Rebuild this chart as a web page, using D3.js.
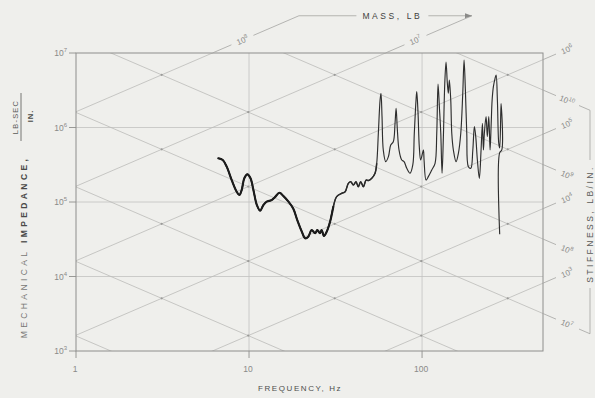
<!DOCTYPE html>
<html><head><meta charset="utf-8">
<script src="https://cdn.jsdelivr.net/npm/d3@7"></script>
<style>
html,body{margin:0;padding:0;background:#efefec;}
svg{display:block;font-family:"Liberation Sans",Arial,sans-serif;}
</style></head><body>
<svg id="c" width="595" height="398"></svg>
<script>
// ---------- data ----------
const freqTicks = [1, 10, 100];
const freqTickLabels = ["1", "10", "100"];
const impedanceTicks = [1e3, 1e4, 1e5, 1e6, 1e7];
const impedanceExponents = ["3", "4", "5", "6", "7"];
const massLines = [1e3, 1e4, 1e5, 1e6, 1e7, 1e8];            // lb
const stiffnessLines = [1e4, 1e5, 1e6, 1e7, 1e8, 1e9, 1e10];  // lb/in
const massRightLabels = [1e3, 1e4, 1e5, 1e6];
const massTopLabels = [1e7, 1e8];
const stiffRightLabels = [1e7, 1e8, 1e9, 1e10];

const frequency = [6.64,7.05,7.43,7.94,8.49,8.79,9.07,9.39,9.78,10.2,
 10.6,11.1,11.6,12.1,12.65,13.5,14.1,15.0,15.8,16.9,
 18.0,19.0,20.2,21.1,22.0,23.0,24.1,24.8,25.7,26.3,
 27.1,28.1,29.4,30.7,32.1,34.4,35.9,37.5,38.7,40.1,
 41.5,42.8,44.2,45.8,47.5,48.9,51.2,53.5,54.7,55.9,
 57.2,57.9,58.7,59.7,61.7,63.9,65.9,68.2,69.8,70.8,
 72.0,73.6,76.3,78.7,81.6,85.2,88.4,90.2,92.3,93.2,
 94.8,96.4,98.2,101.8,102.7,105.5,108.7,113.8,118.9,121.6,
 123.7,125.9,128.3,130.5,132.8,135.3,137.6,140.0,141.9,143.8,
 146.5,148.5,151.7,157.3,162.2,167.4,171.9,174.9,178.0,181.3,
 185.2,191.3,196.5,200.6,204.3,208.8,214.3,219.3,223.3,226.2,
 229.1,234.4,238.4,243.0,247.2,250.6,254.1,258.4,264.2,267.9,
 272.5,277.5,281,286,289,281,281];
const impedance = [3.86e5,3.66e5,2.98e5,1.97e5,1.37e5,1.24e5,1.45e5,2.08e5,2.35e5,2.08e5,
 1.45e5,9.1e4,7.64e4,9.1e4,1.01e5,1.06e5,1.16e5,1.33e5,1.20e5,1.01e5,
 8.2e4,5.73e4,3.99e4,3.26e4,3.42e4,4.21e4,3.80e4,4.21e4,3.80e4,4.21e4,
 3.50e4,3.99e4,5.44e4,8.65e4,1.18e5,1.31e5,1.37e5,1.78e5,1.87e5,1.69e5,
 1.87e5,1.60e5,1.87e5,1.60e5,1.97e5,1.94e5,2.08e5,2.43e5,3.31e5,8.36e5,
 2.34e6,2.88e6,1.40e6,4.99e5,3.48e5,4.06e5,5.82e5,6.45e5,1.14e6,1.81e6,
 9.25e5,4.99e5,3.66e5,3.48e5,2.83e5,2.43e5,3.14e5,8.36e5,2.34e6,3.03e6,
 1.55e6,5.52e5,3.66e5,4.99e5,3.66e5,1.97e5,2.19e5,2.69e5,3.31e5,8.36e5,
 3.84e6,1.90e6,8.36e5,2.43e5,7.53e5,3.92e6,7.57e6,3.92e6,2.88e6,4.34e6,
 2.34e6,8.36e5,4.99e5,3.48e5,4.51e5,8.36e5,2.88e6,8.05e6,3.19e6,8.36e5,
 2.98e5,2.83e5,4.99e5,1.03e6,7.53e5,3.66e5,2.08e5,4.99e5,1.14e6,4.99e5,
 8.36e5,1.40e6,7.53e5,1.40e6,4.99e5,1.03e6,2.34e6,3.53e6,4.57e6,5.07e6,
 2.34e6,6.14e5,5.3e5,2.1e6,5.0e5,4.6e5,3.7e4];

// ---------- chart ----------
const W = 595, H = 398;
const x = d3.scaleLog().domain([1, 500]).range([76, 543]);
const y = d3.scaleLog().domain([1e3, 1e7]).range([351, 53]);
const G = 386.1;
const massZ = (m, f) => 2 * Math.PI * f * m / G;
const stiffZ = (k, f) => k / (2 * Math.PI * f);
const fMassAt = (m, Z) => Z * G / (2 * Math.PI * m);

const svg = d3.select('#c');
svg.append('rect').attr('width', W).attr('height', H).attr('fill', '#efefec');
const [x0, x1] = x.range(), [y0, y1] = [y(1e7), y(1e3)];
svg.append('defs').append('clipPath').attr('id', 'plot')
  .append('rect').attr('x', x0).attr('y', y0).attr('width', x1 - x0).attr('height', y1 - y0);

const gridC = '#c2c2c0', diagC = '#bbbbb9', frameC = '#8e8e8c', labC = '#8a8a88';

// gridlines
svg.append('g').selectAll('line').data(impedanceTicks.slice(1, -1)).join('line')
  .attr('x1', x0).attr('x2', x1).attr('y1', d => y(d)).attr('y2', d => y(d))
  .attr('stroke', gridC).attr('stroke-width', 0.8);
svg.append('g').selectAll('line').data(freqTicks.slice(1)).join('line')
  .attr('x1', d => x(d)).attr('x2', d => x(d)).attr('y1', y0).attr('y2', y1)
  .attr('stroke', gridC).attr('stroke-width', 0.8);

// diagonals
const diag = svg.append('g').attr('clip-path', 'url(#plot)');
const fA = 0.3, fB = 3000;
diag.selectAll('.m').data(massLines).join('line').attr('class', 'm')
  .attr('x1', x(fA)).attr('y1', m => y(massZ(m, fA)))
  .attr('x2', x(fB)).attr('y2', m => y(massZ(m, fB)))
  .attr('stroke', diagC).attr('stroke-width', 0.8);
diag.selectAll('.k').data(stiffnessLines).join('line').attr('class', 'k')
  .attr('x1', x(fA)).attr('y1', k => y(stiffZ(k, fA)))
  .attr('x2', x(fB)).attr('y2', k => y(stiffZ(k, fB)))
  .attr('stroke', diagC).attr('stroke-width', 0.8);

// intersection dots
const dots = [];
massLines.forEach(m => stiffnessLines.forEach(k => {
  const f = Math.sqrt(G * k / (4 * Math.PI * Math.PI * m));
  const Z = stiffZ(k, f);
  if (f >= 1 && f <= 500 && Z >= 1e3 && Z <= 1e7) dots.push([f, Z]);
}));
svg.append('g').selectAll('circle').data(dots).join('circle')
  .attr('cx', d => x(d[0])).attr('cy', d => y(d[1])).attr('r', 1.1).attr('fill', '#9a9a98');

// frame
svg.append('rect').attr('x', x0).attr('y', y0).attr('width', x1 - x0).attr('height', y1 - y0)
  .attr('fill', 'none').attr('stroke', frameC).attr('stroke-width', 1);

// ticks
svg.append('g').selectAll('line').data(impedanceTicks).join('line')
  .attr('x1', x0 - 7).attr('x2', x0).attr('y1', d => y(d)).attr('y2', d => y(d))
  .attr('stroke', frameC).attr('stroke-width', 0.9);
svg.append('g').selectAll('line').data(freqTicks).join('line')
  .attr('x1', d => x(d)).attr('x2', d => x(d)).attr('y1', y1).attr('y2', y1 + 7)
  .attr('stroke', frameC).attr('stroke-width', 0.9);

// y tick labels
const yl = svg.append('g').attr('fill', labC).attr('font-size', 8.5);
impedanceTicks.forEach((d, i) => {
  const t = yl.append('text').attr('x', x0 - 9).attr('y', y(d) + 3).attr('text-anchor', 'end');
  t.append('tspan').text('10');
  t.append('tspan').attr('dy', -4).attr('font-size', 6).text(impedanceExponents[i]);
});
// x tick labels
svg.append('g').attr('fill', labC).attr('font-size', 8.5).selectAll('text')
  .data(freqTicks).join('text')
  .attr('x', d => x(d) - 1).attr('y', y1 + 21).attr('text-anchor', 'middle')
  .text((d, i) => freqTickLabels[i]);

// axis titles
svg.append('text').attr('x', 300).attr('y', 391).attr('text-anchor', 'middle')
  .attr('font-size', 8).attr('letter-spacing', 1.6).attr('fill', '#4e4e4c').text('FREQUENCY, Hz');
const yt = svg.append('text').attr('transform', 'translate(26.5,247) rotate(-90)').attr('text-anchor', 'middle')
  .attr('font-size', 8.5).attr('letter-spacing', 3.4).attr('fill', '#777775');
yt.append('tspan').text('MECHANICAL ');
yt.append('tspan').attr('fill', '#4a4a48').attr('font-weight', 'bold').text('IMPEDANCE,');
svg.append('text').attr('transform', 'translate(17.5,117) rotate(-90)').attr('text-anchor', 'middle')
  .attr('font-size', 7.5).attr('letter-spacing', 1.2).attr('fill', '#5a5a58').text('LB-SEC');
svg.append('line').attr('x1', 21).attr('x2', 21).attr('y1', 93).attr('y2', 141)
  .attr('stroke', '#6a6a68').attr('stroke-width', 0.9);
svg.append('text').attr('transform', 'translate(32.5,116) rotate(-90)').attr('text-anchor', 'middle')
  .attr('font-size', 7.5).attr('letter-spacing', 1).attr('fill', '#4a4a48').attr('font-weight', 'bold').text('IN.');

// --- line labels
const slopeM = (y(massZ(1, 10)) - y(massZ(1, 1))) / (x(10) - x(1));
const angM = Math.atan(slopeM) * 180 / Math.PI;
const annC = '#a4a4a2';
const ann = svg.append('g');
function supLabel(px, py, ang, exp, size) {
  const t = ann.append('text').attr('transform', `translate(${px},${py}) rotate(${ang})`)
    .attr('text-anchor', 'middle').attr('dy', 3).attr('font-size', size || 8).attr('fill', labC);
  t.append('tspan').text('10');
  t.append('tspan').attr('dy', -3.5).attr('font-size', 5.8).text(exp);
}
function seg(xa, ya, xb, yb) {
  ann.append('line').attr('x1', xa).attr('y1', ya).attr('x2', xb).attr('y2', yb)
    .attr('stroke', annC).attr('stroke-width', 0.8);
}
// right: mass
massRightLabels.forEach(m => {
  const xe = x(500), ye = y(massZ(m, 500));
  seg(xe, ye, xe + 13, ye + 13 * slopeM);
  supLabel(xe + 24, ye + 24 * slopeM, angM, String(Math.round(Math.log10(m))));
});
// right: stiffness
const bx = 590;
const sEnds = {};
stiffRightLabels.forEach(k => {
  const xe = x(500), ye = y(stiffZ(k, 500));
  seg(xe, ye, xe + 13, ye - 13 * slopeM);
  supLabel(xe + 24, ye - 24 * slopeM, -angM, String(Math.round(Math.log10(k))));
  if (k === 1e10 || k === 1e7) {
    seg(xe + 36, ye - 36 * slopeM, bx, ye - (bx - xe) * slopeM);
    sEnds[k] = ye - (bx - xe) * slopeM;
  }
});
const stTextY = 224, stHalf = 61;
seg(bx, sEnds[1e10], bx, stTextY - stHalf - 3);
seg(bx, stTextY + stHalf + 3, bx, sEnds[1e7]);
svg.append('text').attr('transform', `translate(${bx + 2.5},${stTextY}) rotate(-90)`)
  .attr('text-anchor', 'middle').attr('font-size', 8.5).attr('letter-spacing', 2.5)
  .attr('fill', '#5a5a58').text('STIFFNESS, LB/IN.');

// top: mass 1e7, 1e8
const Ztop = Math.pow(10, 7.5);
const corners = {};
massTopLabels.forEach(m => {
  const xs = x(fMassAt(m, 1e7)), ys = y(1e7);
  const xe = x(fMassAt(m, Ztop)), ye = y(Ztop);
  const lx = xs + 30, ly = ys + 30 * slopeM;
  seg(xs, ys, lx - 11, ys + (lx - 11 - xs) * slopeM);
  seg(lx + 11, ys + (lx + 11 - xs) * slopeM, xe, ye);
  supLabel(lx, ly, angM, String(Math.round(Math.log10(m))));
  corners[m] = [xe, ye];
});
const cL = corners[1e8], cR = corners[1e7];
const tMid = cL[0] + (cR[0] - cL[0]) * 0.54;
seg(cL[0], cL[1], tMid - 36, cL[1]);
seg(tMid + 36, cL[1], cR[0], cR[1]);
ann.append('path').attr('d', `M${cR[0]},${cR[1]} l-7,-2.6 l0,5.2 z`).attr('fill', '#8a8a88');
svg.append('text').attr('x', tMid).attr('y', cL[1] + 3).attr('text-anchor', 'middle')
  .attr('font-size', 8.5).attr('letter-spacing', 2.6).attr('fill', '#3e3e3c').text('MASS, LB');

// ---------- data curve ----------
const pts = frequency.map((f, i) => [f, impedance[i]]);
const line = d3.line().x(d => x(d[0])).y(d => y(d[1])).curve(d3.curveCatmullRom.alpha(0.5));
svg.append('path').attr('d', line(pts)).attr('fill', 'none')
  .attr('stroke', '#2e2e2e').attr('stroke-width', 1.15).attr('stroke-linejoin', 'round');
svg.append('path').attr('d', line(pts.slice(0, 49))).attr('fill', 'none')
  .attr('stroke', '#2a2a2a').attr('stroke-width', 1.5).attr('stroke-linejoin', 'round');
svg.append('path').attr('d', line(pts.slice(0, 34))).attr('fill', 'none')
  .attr('stroke', '#1c1c1c').attr('stroke-width', 2.1).attr('stroke-linejoin', 'round')
  .attr('stroke-linecap', 'round');
</script>
</body></html>
